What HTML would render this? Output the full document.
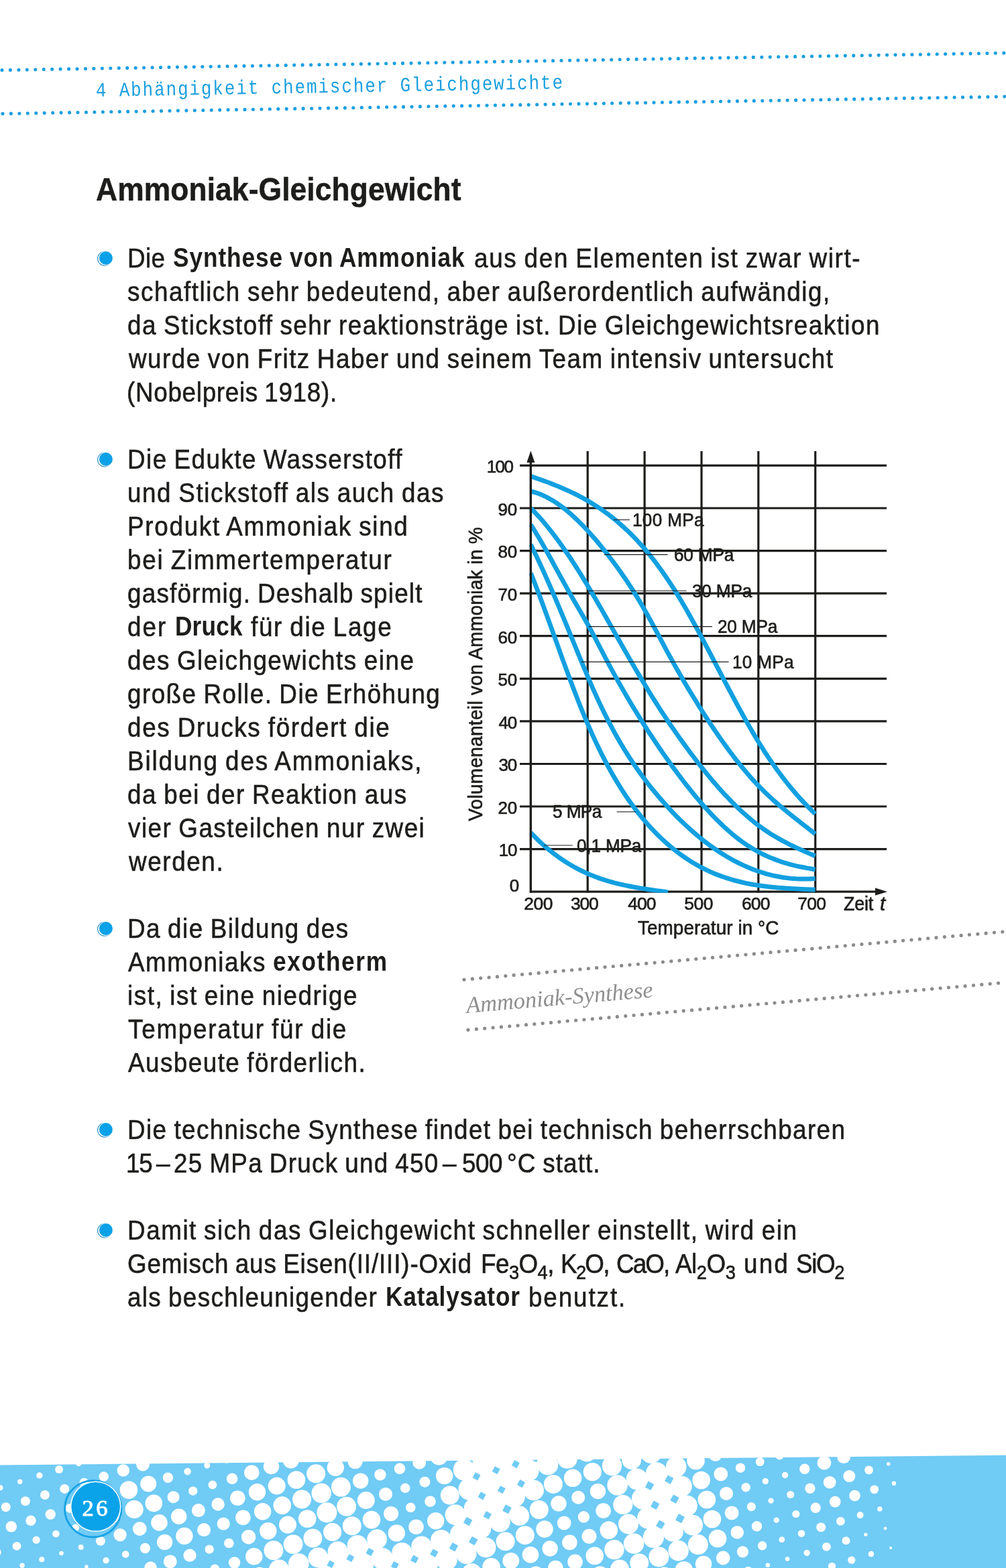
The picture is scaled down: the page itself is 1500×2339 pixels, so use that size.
<!DOCTYPE html>
<html lang="de">
<head>
<meta charset="utf-8">
<title>Ammoniak-Gleichgewicht</title>
<style>
html,body{margin:0;padding:0;background:#fff}
body{width:1500px;height:2339px;position:relative;overflow:hidden;font-family:"Liberation Sans",sans-serif;color:#1d1d1b}
svg{position:absolute;left:0;top:0;display:block}
header,main,footer,h1,ul,li,p,figure,figcaption{margin:0;padding:0;list-style:none;font-weight:normal;font-size:inherit}
.t{position:absolute;white-space:nowrap;line-height:1;transform-origin:0 0;display:block}
.r{font-size:40.0px;font-weight:normal;word-spacing:-1.8px;transform:scaleX(0.92);-webkit-text-stroke:0.6px #1d1d1b}
.b{font-size:40.5px;font-weight:bold;word-spacing:-1.0px;transform:scaleX(0.87)}
.c{font-size:26px}
sub{font-size:.74em;vertical-align:baseline;position:relative;top:.30em;line-height:0}
svg text{font-family:"Liberation Sans",sans-serif;fill:#1d1d1b}
</style>
</head>
<body>
<header>
<svg width="1500" height="200" viewBox="0 0 1500 200" aria-hidden="true">
<g fill="#1a9fe0"><circle cx="3.0" cy="104.6" r="2.55"/><circle cx="15.4" cy="104.4" r="2.55"/><circle cx="27.9" cy="104.2" r="2.55"/><circle cx="40.3" cy="104.0" r="2.55"/><circle cx="52.8" cy="103.7" r="2.55"/><circle cx="65.2" cy="103.5" r="2.55"/><circle cx="77.7" cy="103.3" r="2.55"/><circle cx="90.1" cy="103.1" r="2.55"/><circle cx="102.6" cy="102.9" r="2.55"/><circle cx="115.0" cy="102.7" r="2.55"/><circle cx="127.5" cy="102.5" r="2.55"/><circle cx="139.9" cy="102.3" r="2.55"/><circle cx="152.4" cy="102.0" r="2.55"/><circle cx="164.8" cy="101.8" r="2.55"/><circle cx="177.3" cy="101.6" r="2.55"/><circle cx="189.7" cy="101.4" r="2.55"/><circle cx="202.2" cy="101.2" r="2.55"/><circle cx="214.6" cy="101.0" r="2.55"/><circle cx="227.1" cy="100.8" r="2.55"/><circle cx="239.5" cy="100.6" r="2.55"/><circle cx="252.0" cy="100.3" r="2.55"/><circle cx="264.4" cy="100.1" r="2.55"/><circle cx="276.9" cy="99.9" r="2.55"/><circle cx="289.3" cy="99.7" r="2.55"/><circle cx="301.8" cy="99.5" r="2.55"/><circle cx="314.2" cy="99.3" r="2.55"/><circle cx="326.7" cy="99.1" r="2.55"/><circle cx="339.1" cy="98.9" r="2.55"/><circle cx="351.5" cy="98.6" r="2.55"/><circle cx="364.0" cy="98.4" r="2.55"/><circle cx="376.4" cy="98.2" r="2.55"/><circle cx="388.9" cy="98.0" r="2.55"/><circle cx="401.3" cy="97.8" r="2.55"/><circle cx="413.8" cy="97.6" r="2.55"/><circle cx="426.2" cy="97.4" r="2.55"/><circle cx="438.7" cy="97.1" r="2.55"/><circle cx="451.1" cy="96.9" r="2.55"/><circle cx="463.6" cy="96.7" r="2.55"/><circle cx="476.0" cy="96.5" r="2.55"/><circle cx="488.5" cy="96.3" r="2.55"/><circle cx="500.9" cy="96.1" r="2.55"/><circle cx="513.4" cy="95.9" r="2.55"/><circle cx="525.8" cy="95.7" r="2.55"/><circle cx="538.3" cy="95.4" r="2.55"/><circle cx="550.7" cy="95.2" r="2.55"/><circle cx="563.2" cy="95.0" r="2.55"/><circle cx="575.6" cy="94.8" r="2.55"/><circle cx="588.1" cy="94.6" r="2.55"/><circle cx="600.5" cy="94.4" r="2.55"/><circle cx="613.0" cy="94.2" r="2.55"/><circle cx="625.4" cy="94.0" r="2.55"/><circle cx="637.9" cy="93.7" r="2.55"/><circle cx="650.3" cy="93.5" r="2.55"/><circle cx="662.8" cy="93.3" r="2.55"/><circle cx="675.2" cy="93.1" r="2.55"/><circle cx="687.6" cy="92.9" r="2.55"/><circle cx="700.1" cy="92.7" r="2.55"/><circle cx="712.5" cy="92.5" r="2.55"/><circle cx="725.0" cy="92.3" r="2.55"/><circle cx="737.4" cy="92.0" r="2.55"/><circle cx="749.9" cy="91.8" r="2.55"/><circle cx="762.3" cy="91.6" r="2.55"/><circle cx="774.8" cy="91.4" r="2.55"/><circle cx="787.2" cy="91.2" r="2.55"/><circle cx="799.7" cy="91.0" r="2.55"/><circle cx="812.1" cy="90.8" r="2.55"/><circle cx="824.6" cy="90.6" r="2.55"/><circle cx="837.0" cy="90.3" r="2.55"/><circle cx="849.5" cy="90.1" r="2.55"/><circle cx="861.9" cy="89.9" r="2.55"/><circle cx="874.4" cy="89.7" r="2.55"/><circle cx="886.8" cy="89.5" r="2.55"/><circle cx="899.3" cy="89.3" r="2.55"/><circle cx="911.7" cy="89.1" r="2.55"/><circle cx="924.2" cy="88.8" r="2.55"/><circle cx="936.6" cy="88.6" r="2.55"/><circle cx="949.1" cy="88.4" r="2.55"/><circle cx="961.5" cy="88.2" r="2.55"/><circle cx="974.0" cy="88.0" r="2.55"/><circle cx="986.4" cy="87.8" r="2.55"/><circle cx="998.9" cy="87.6" r="2.55"/><circle cx="1011.3" cy="87.4" r="2.55"/><circle cx="1023.8" cy="87.1" r="2.55"/><circle cx="1036.2" cy="86.9" r="2.55"/><circle cx="1048.6" cy="86.7" r="2.55"/><circle cx="1061.1" cy="86.5" r="2.55"/><circle cx="1073.5" cy="86.3" r="2.55"/><circle cx="1086.0" cy="86.1" r="2.55"/><circle cx="1098.4" cy="85.9" r="2.55"/><circle cx="1110.9" cy="85.7" r="2.55"/><circle cx="1123.3" cy="85.4" r="2.55"/><circle cx="1135.8" cy="85.2" r="2.55"/><circle cx="1148.2" cy="85.0" r="2.55"/><circle cx="1160.7" cy="84.8" r="2.55"/><circle cx="1173.1" cy="84.6" r="2.55"/><circle cx="1185.6" cy="84.4" r="2.55"/><circle cx="1198.0" cy="84.2" r="2.55"/><circle cx="1210.5" cy="84.0" r="2.55"/><circle cx="1222.9" cy="83.7" r="2.55"/><circle cx="1235.4" cy="83.5" r="2.55"/><circle cx="1247.8" cy="83.3" r="2.55"/><circle cx="1260.3" cy="83.1" r="2.55"/><circle cx="1272.7" cy="82.9" r="2.55"/><circle cx="1285.2" cy="82.7" r="2.55"/><circle cx="1297.6" cy="82.5" r="2.55"/><circle cx="1310.1" cy="82.2" r="2.55"/><circle cx="1322.5" cy="82.0" r="2.55"/><circle cx="1335.0" cy="81.8" r="2.55"/><circle cx="1347.4" cy="81.6" r="2.55"/><circle cx="1359.9" cy="81.4" r="2.55"/><circle cx="1372.3" cy="81.2" r="2.55"/><circle cx="1384.7" cy="81.0" r="2.55"/><circle cx="1397.2" cy="80.8" r="2.55"/><circle cx="1409.6" cy="80.5" r="2.55"/><circle cx="1422.1" cy="80.3" r="2.55"/><circle cx="1434.5" cy="80.1" r="2.55"/><circle cx="1447.0" cy="79.9" r="2.55"/><circle cx="1459.4" cy="79.7" r="2.55"/><circle cx="1471.9" cy="79.5" r="2.55"/><circle cx="1484.3" cy="79.3" r="2.55"/><circle cx="1496.8" cy="79.1" r="2.55"/></g>
<g fill="#1a9fe0"><circle cx="4.0" cy="169.6" r="2.55"/><circle cx="16.4" cy="169.4" r="2.55"/><circle cx="28.9" cy="169.2" r="2.55"/><circle cx="41.3" cy="169.0" r="2.55"/><circle cx="53.8" cy="168.7" r="2.55"/><circle cx="66.2" cy="168.5" r="2.55"/><circle cx="78.7" cy="168.3" r="2.55"/><circle cx="91.1" cy="168.1" r="2.55"/><circle cx="103.6" cy="167.9" r="2.55"/><circle cx="116.0" cy="167.7" r="2.55"/><circle cx="128.5" cy="167.5" r="2.55"/><circle cx="140.9" cy="167.3" r="2.55"/><circle cx="153.4" cy="167.0" r="2.55"/><circle cx="165.8" cy="166.8" r="2.55"/><circle cx="178.3" cy="166.6" r="2.55"/><circle cx="190.7" cy="166.4" r="2.55"/><circle cx="203.2" cy="166.2" r="2.55"/><circle cx="215.6" cy="166.0" r="2.55"/><circle cx="228.1" cy="165.8" r="2.55"/><circle cx="240.5" cy="165.6" r="2.55"/><circle cx="253.0" cy="165.3" r="2.55"/><circle cx="265.4" cy="165.1" r="2.55"/><circle cx="277.9" cy="164.9" r="2.55"/><circle cx="290.3" cy="164.7" r="2.55"/><circle cx="302.8" cy="164.5" r="2.55"/><circle cx="315.2" cy="164.3" r="2.55"/><circle cx="327.7" cy="164.1" r="2.55"/><circle cx="340.1" cy="163.8" r="2.55"/><circle cx="352.5" cy="163.6" r="2.55"/><circle cx="365.0" cy="163.4" r="2.55"/><circle cx="377.4" cy="163.2" r="2.55"/><circle cx="389.9" cy="163.0" r="2.55"/><circle cx="402.3" cy="162.8" r="2.55"/><circle cx="414.8" cy="162.6" r="2.55"/><circle cx="427.2" cy="162.4" r="2.55"/><circle cx="439.7" cy="162.1" r="2.55"/><circle cx="452.1" cy="161.9" r="2.55"/><circle cx="464.6" cy="161.7" r="2.55"/><circle cx="477.0" cy="161.5" r="2.55"/><circle cx="489.5" cy="161.3" r="2.55"/><circle cx="501.9" cy="161.1" r="2.55"/><circle cx="514.4" cy="160.9" r="2.55"/><circle cx="526.8" cy="160.7" r="2.55"/><circle cx="539.3" cy="160.4" r="2.55"/><circle cx="551.7" cy="160.2" r="2.55"/><circle cx="564.2" cy="160.0" r="2.55"/><circle cx="576.6" cy="159.8" r="2.55"/><circle cx="589.1" cy="159.6" r="2.55"/><circle cx="601.5" cy="159.4" r="2.55"/><circle cx="614.0" cy="159.2" r="2.55"/><circle cx="626.4" cy="158.9" r="2.55"/><circle cx="638.9" cy="158.7" r="2.55"/><circle cx="651.3" cy="158.5" r="2.55"/><circle cx="663.8" cy="158.3" r="2.55"/><circle cx="676.2" cy="158.1" r="2.55"/><circle cx="688.6" cy="157.9" r="2.55"/><circle cx="701.1" cy="157.7" r="2.55"/><circle cx="713.5" cy="157.5" r="2.55"/><circle cx="726.0" cy="157.2" r="2.55"/><circle cx="738.4" cy="157.0" r="2.55"/><circle cx="750.9" cy="156.8" r="2.55"/><circle cx="763.3" cy="156.6" r="2.55"/><circle cx="775.8" cy="156.4" r="2.55"/><circle cx="788.2" cy="156.2" r="2.55"/><circle cx="800.7" cy="156.0" r="2.55"/><circle cx="813.1" cy="155.8" r="2.55"/><circle cx="825.6" cy="155.5" r="2.55"/><circle cx="838.0" cy="155.3" r="2.55"/><circle cx="850.5" cy="155.1" r="2.55"/><circle cx="862.9" cy="154.9" r="2.55"/><circle cx="875.4" cy="154.7" r="2.55"/><circle cx="887.8" cy="154.5" r="2.55"/><circle cx="900.3" cy="154.3" r="2.55"/><circle cx="912.7" cy="154.0" r="2.55"/><circle cx="925.2" cy="153.8" r="2.55"/><circle cx="937.6" cy="153.6" r="2.55"/><circle cx="950.1" cy="153.4" r="2.55"/><circle cx="962.5" cy="153.2" r="2.55"/><circle cx="975.0" cy="153.0" r="2.55"/><circle cx="987.4" cy="152.8" r="2.55"/><circle cx="999.9" cy="152.6" r="2.55"/><circle cx="1012.3" cy="152.3" r="2.55"/><circle cx="1024.8" cy="152.1" r="2.55"/><circle cx="1037.2" cy="151.9" r="2.55"/><circle cx="1049.6" cy="151.7" r="2.55"/><circle cx="1062.1" cy="151.5" r="2.55"/><circle cx="1074.5" cy="151.3" r="2.55"/><circle cx="1087.0" cy="151.1" r="2.55"/><circle cx="1099.4" cy="150.9" r="2.55"/><circle cx="1111.9" cy="150.6" r="2.55"/><circle cx="1124.3" cy="150.4" r="2.55"/><circle cx="1136.8" cy="150.2" r="2.55"/><circle cx="1149.2" cy="150.0" r="2.55"/><circle cx="1161.7" cy="149.8" r="2.55"/><circle cx="1174.1" cy="149.6" r="2.55"/><circle cx="1186.6" cy="149.4" r="2.55"/><circle cx="1199.0" cy="149.2" r="2.55"/><circle cx="1211.5" cy="148.9" r="2.55"/><circle cx="1223.9" cy="148.7" r="2.55"/><circle cx="1236.4" cy="148.5" r="2.55"/><circle cx="1248.8" cy="148.3" r="2.55"/><circle cx="1261.3" cy="148.1" r="2.55"/><circle cx="1273.7" cy="147.9" r="2.55"/><circle cx="1286.2" cy="147.7" r="2.55"/><circle cx="1298.6" cy="147.4" r="2.55"/><circle cx="1311.1" cy="147.2" r="2.55"/><circle cx="1323.5" cy="147.0" r="2.55"/><circle cx="1336.0" cy="146.8" r="2.55"/><circle cx="1348.4" cy="146.6" r="2.55"/><circle cx="1360.9" cy="146.4" r="2.55"/><circle cx="1373.3" cy="146.2" r="2.55"/><circle cx="1385.7" cy="146.0" r="2.55"/><circle cx="1398.2" cy="145.7" r="2.55"/><circle cx="1410.6" cy="145.5" r="2.55"/><circle cx="1423.1" cy="145.3" r="2.55"/><circle cx="1435.5" cy="145.1" r="2.55"/><circle cx="1448.0" cy="144.9" r="2.55"/><circle cx="1460.4" cy="144.7" r="2.55"/><circle cx="1472.9" cy="144.5" r="2.55"/><circle cx="1485.3" cy="144.3" r="2.55"/><circle cx="1497.8" cy="144.0" r="2.55"/></g>
</svg>
<p class="t" style="left:142.64px;top:121.22px;font-size:30px;letter-spacing:2.293px;transform-origin:0 22.98px;transform:rotate(-0.98deg) scale(0.86,1.0);font-family:'Liberation Mono',monospace;color:#1a9fe0;">4 Abhängigkeit chemischer Gleichgewichte</p>
</header>
<main>
<h1 class="t" style="left:143.10px;top:258.78px;font-size:47.5px;letter-spacing:0.080px;transform-origin:0 40.22px;transform:scale(0.935,1.0);font-weight:bold;-webkit-text-stroke:0.5px #1d1d1b;">Ammoniak-Gleichgewicht</h1>
<ul>
<li>
<svg width="40" height="40" viewBox="0 0 40 40" style="left:137px;top:364.9px" aria-hidden="true"><circle cx="19.0" cy="20.7" r="10.4" fill="none" stroke="#2b8fc4" stroke-width="1.1"/><circle cx="20.9" cy="20" r="10.7" fill="#fff"/><circle cx="20.9" cy="20" r="10" fill="#0aa1e8"/></svg>
<span class="t r" style="left:189.92px;top:364.63px;letter-spacing:0.400px">Die</span> <b class="t b" style="left:258.13px;top:364.21px;letter-spacing:1.073px">Synthese von Ammoniak</b> <span class="t r" style="left:707.36px;top:364.63px;letter-spacing:1.827px">aus den Elementen ist zwar wirt-</span>
<span class="t r" style="left:190.36px;top:414.63px;letter-spacing:1.676px">schaftlich sehr bedeutend, aber außerordentlich aufwändig,</span>
<span class="t r" style="left:190.36px;top:464.63px;letter-spacing:1.614px">da Stickstoff sehr reaktionsträge ist. Die Gleichgewichtsreaktion</span>
<span class="t r" style="left:192.20px;top:514.63px;letter-spacing:1.633px">wurde von Fritz Haber und seinem Team intensiv untersucht</span>
<span class="t r" style="left:189.44px;top:564.63px;letter-spacing:0.772px">(Nobelpreis 1918).</span>
</li>
<li>
<svg width="40" height="40" viewBox="0 0 40 40" style="left:137px;top:664.9px" aria-hidden="true"><circle cx="19.0" cy="20.7" r="10.4" fill="none" stroke="#2b8fc4" stroke-width="1.1"/><circle cx="20.9" cy="20" r="10.7" fill="#fff"/><circle cx="20.9" cy="20" r="10" fill="#0aa1e8"/></svg>
<span class="t r" style="left:189.92px;top:664.63px;letter-spacing:1.570px">Die Edukte Wasserstoff</span>
<span class="t r" style="left:190.24px;top:714.63px;letter-spacing:1.712px">und Stickstoff als auch das</span>
<span class="t r" style="left:189.92px;top:764.63px;letter-spacing:1.879px">Produkt Ammoniak sind</span>
<span class="t r" style="left:190.24px;top:814.63px;letter-spacing:1.915px">bei Zimmertemperatur</span>
<span class="t r" style="left:190.36px;top:864.63px;letter-spacing:1.341px">gasförmig. Deshalb spielt</span>
<span class="t r" style="left:190.36px;top:914.63px;letter-spacing:2.160px">der</span> <b class="t b" style="left:260.56px;top:914.21px;letter-spacing:0.188px">Druck</b> <span class="t r" style="left:373.58px;top:914.63px;letter-spacing:1.842px">für die Lage</span>
<span class="t r" style="left:190.36px;top:964.63px;letter-spacing:1.650px">des Gleichgewichts eine</span>
<span class="t r" style="left:190.36px;top:1014.63px;letter-spacing:1.589px">große Rolle. Die Erhöhung</span>
<span class="t r" style="left:190.36px;top:1064.63px;letter-spacing:1.854px">des Drucks fördert die</span>
<span class="t r" style="left:189.92px;top:1114.63px;letter-spacing:2.008px">Bildung des Ammoniaks,</span>
<span class="t r" style="left:190.36px;top:1164.63px;letter-spacing:1.680px">da bei der Reaktion aus</span>
<span class="t r" style="left:191.28px;top:1214.63px;letter-spacing:1.614px">vier Gasteilchen nur zwei</span>
<span class="t r" style="left:192.20px;top:1264.63px;letter-spacing:1.770px">werden.</span>
</li>
<li>
<svg width="40" height="40" viewBox="0 0 40 40" style="left:137px;top:1364.9px" aria-hidden="true"><circle cx="19.0" cy="20.7" r="10.4" fill="none" stroke="#2b8fc4" stroke-width="1.1"/><circle cx="20.9" cy="20" r="10.7" fill="#fff"/><circle cx="20.9" cy="20" r="10" fill="#0aa1e8"/></svg>
<span class="t r" style="left:189.92px;top:1364.63px;letter-spacing:1.610px">Da die Bildung des</span>
<span class="t r" style="left:191.28px;top:1414.63px;letter-spacing:1.649px">Ammoniaks</span> <b class="t b" style="left:407.13px;top:1414.21px;letter-spacing:1.874px">exotherm</b>
<span class="t r" style="left:190.44px;top:1464.63px;letter-spacing:1.677px">ist, ist eine niedrige</span>
<span class="t r" style="left:191.28px;top:1514.63px;letter-spacing:1.917px">Temperatur für die</span>
<span class="t r" style="left:191.28px;top:1564.63px;letter-spacing:1.600px">Ausbeute förderlich.</span>
</li>
<li>
<svg width="40" height="40" viewBox="0 0 40 40" style="left:137px;top:1664.9px" aria-hidden="true"><circle cx="19.0" cy="20.7" r="10.4" fill="none" stroke="#2b8fc4" stroke-width="1.1"/><circle cx="20.9" cy="20" r="10.7" fill="#fff"/><circle cx="20.9" cy="20" r="10" fill="#0aa1e8"/></svg>
<span class="t r" style="left:189.92px;top:1664.63px;letter-spacing:1.528px">Die technische Synthese findet bei technisch beherrschbaren</span>
<span class="t r" style="left:188.02px;top:1714.63px;letter-spacing:-1.390px">15</span> <span class="t r" style="left:233.12px;top:1714.63px;letter-spacing:0.000px">–</span> <span class="t r" style="left:259.34px;top:1714.63px;letter-spacing:1.405px">25 MPa Druck und 450</span> <span class="t r" style="left:660.32px;top:1714.63px;letter-spacing:0.000px">–</span> <span class="t r" style="left:688.66px;top:1714.63px;letter-spacing:-0.481px">500</span> <span class="t r" style="left:755.64px;top:1714.63px;letter-spacing:1.213px">°C statt.</span>
</li>
<li>
<svg width="40" height="40" viewBox="0 0 40 40" style="left:137px;top:1814.9px" aria-hidden="true"><circle cx="19.0" cy="20.7" r="10.4" fill="none" stroke="#2b8fc4" stroke-width="1.1"/><circle cx="20.9" cy="20" r="10.7" fill="#fff"/><circle cx="20.9" cy="20" r="10" fill="#0aa1e8"/></svg>
<span class="t r" style="left:189.92px;top:1814.63px;letter-spacing:1.699px">Damit sich das Gleichgewicht schneller einstellt, wird ein</span>
<span class="t r" style="left:189.64px;top:1864.63px;letter-spacing:0.951px">Gemisch aus Eisen(II/III)-Oxid</span>
<span class="t r" style="left:716.73px;top:1864.63px;letter-spacing:-0.579px">Fe<sub>3</sub>O<sub>4</sub>,</span> <span class="t r" style="left:835.53px;top:1864.63px;letter-spacing:-1.811px">K<sub>2</sub>O,</span> <span class="t r" style="left:918.51px;top:1864.63px;letter-spacing:-2.048px">CaO,</span> <span class="t r" style="left:1007.10px;top:1864.63px;letter-spacing:-0.470px">Al<sub>2</sub>O<sub>3</sub></span> <span class="t r" style="left:1108.65px;top:1864.63px;letter-spacing:2.399px">und</span> <span class="t r" style="left:1187.02px;top:1864.63px;letter-spacing:-1.479px">SiO<sub>2</sub></span>
<span class="t r" style="left:190.36px;top:1914.63px;letter-spacing:1.471px">als beschleunigender</span> <b class="t b" style="left:574.66px;top:1914.21px;letter-spacing:0.921px">Katalysator</b> <span class="t r" style="left:787.64px;top:1914.63px;letter-spacing:2.067px">benutzt.</span>
</li>
</ul>
<figure>
<svg width="1500" height="1600" viewBox="0 0 1500 1600" aria-hidden="true">
<g stroke="#1d1d1b" stroke-width="3.2" fill="none">
<path d="M775,694.4H1322"/>
<path d="M775,758.0H1322"/>
<path d="M775,821.6H1322"/>
<path d="M775,885.1H1322"/>
<path d="M775,948.7H1322"/>
<path d="M775,1012.3H1322"/>
<path d="M775,1075.9H1322"/>
<path d="M775,1139.5H1322"/>
<path d="M775,1203.0H1322"/>
<path d="M775,1266.6H1322"/>
<path d="M789.9,1330.2H1310"/>
<path d="M791.4,686V1331.7"/>
<path d="M876.2,673V1331.7"/>
<path d="M961.1,673V1331.7"/>
<path d="M1046.0,673V1331.7"/>
<path d="M1130.8,673V1331.7"/>
<path d="M1215.7,673V1331.7"/>
</g>
<path d="M791.4,672.5 L797.4,690 L785.4,690 Z" fill="#1d1d1b"/>
<path d="M1323,1330.2 L1305,1324.6 L1305,1335.8 Z" fill="#1d1d1b"/>
<clipPath id="plotclip"><rect x="789.2" y="660" width="560" height="671.8"/></clipPath>
<g stroke="#12a0e0" stroke-width="6.8" fill="none" stroke-linejoin="round" clip-path="url(#plotclip)">
<path d="M791.4,710.4 L795.4,711.8 L799.4,713.2 L803.4,714.6 L807.4,716.0 L811.4,717.5 L815.4,718.9 L819.4,720.4 L823.4,722.0 L827.4,723.6 L831.4,725.2 L835.4,726.9 L839.4,728.6 L843.4,730.3 L847.4,732.1 L851.4,734.0 L855.4,735.9 L859.4,737.9 L863.4,739.9 L867.4,742.1 L871.4,744.2 L875.4,746.5 L879.4,748.8 L883.4,751.3 L887.4,753.8 L891.4,756.4 L895.4,759.0 L899.4,761.8 L903.4,764.7 L907.4,767.6 L911.4,770.7 L915.4,773.9 L919.4,777.2 L923.4,780.6 L927.4,784.1 L931.4,787.7 L935.4,791.4 L939.4,795.3 L943.4,799.3 L947.4,803.4 L951.4,807.7 L955.4,812.1 L959.4,816.6 L963.4,821.3 L967.4,826.2 L971.4,831.1 L975.4,836.2 L979.4,841.5 L983.4,846.9 L987.4,852.5 L991.4,858.2 L995.4,864.1 L999.4,870.1 L1003.4,876.3 L1007.4,882.6 L1011.4,889.1 L1015.4,895.8 L1019.4,902.5 L1023.4,909.4 L1027.4,916.5 L1031.4,923.6 L1035.4,930.9 L1039.4,938.2 L1043.4,945.6 L1047.4,953.1 L1051.4,960.6 L1055.4,968.2 L1059.4,975.8 L1063.4,983.4 L1067.4,991.1 L1071.4,998.7 L1075.4,1006.4 L1079.4,1014.0 L1083.4,1021.6 L1087.4,1029.2 L1091.4,1036.7 L1095.4,1044.2 L1099.4,1051.6 L1103.4,1058.9 L1107.4,1066.2 L1111.4,1073.4 L1115.4,1080.4 L1119.4,1087.4 L1123.4,1094.2 L1127.4,1100.9 L1131.4,1107.5 L1135.4,1113.9 L1139.4,1120.2 L1143.4,1126.3 L1147.4,1132.3 L1151.4,1138.1 L1155.4,1143.8 L1159.4,1149.4 L1163.4,1154.8 L1167.4,1160.1 L1171.4,1165.3 L1175.4,1170.3 L1179.4,1175.2 L1183.4,1180.0 L1187.4,1184.7 L1191.4,1189.2 L1195.4,1193.6 L1199.4,1197.9 L1203.4,1202.1 L1207.4,1206.1 L1211.4,1210.1 L1215.6,1214.1"/>
<path d="M791.4,732.9 L795.4,733.9 L799.4,735.0 L803.4,736.4 L807.4,738.0 L811.4,739.8 L815.4,741.7 L819.4,743.9 L823.4,746.2 L827.4,748.7 L831.4,751.4 L835.4,754.2 L839.4,757.2 L843.4,760.3 L847.4,763.7 L851.4,767.1 L855.4,770.7 L859.4,774.5 L863.4,778.4 L867.4,782.4 L871.4,786.5 L875.4,790.8 L879.4,795.2 L883.4,799.7 L887.4,804.3 L891.4,809.0 L895.4,813.9 L899.4,818.8 L903.4,823.8 L907.4,829.0 L911.4,834.2 L915.4,839.5 L919.4,844.9 L923.4,850.5 L927.4,856.2 L931.4,862.0 L935.4,867.9 L939.4,874.0 L943.4,880.2 L947.4,886.6 L951.4,893.1 L955.4,899.8 L959.4,906.7 L963.4,913.7 L967.4,920.9 L971.4,928.2 L975.4,935.7 L979.4,943.1 L983.4,950.7 L987.4,958.2 L991.4,965.7 L995.4,973.1 L999.4,980.4 L1003.4,987.7 L1007.4,994.8 L1011.4,1001.8 L1015.4,1008.8 L1019.4,1015.7 L1023.4,1022.5 L1027.4,1029.2 L1031.4,1035.8 L1035.4,1042.3 L1039.4,1048.8 L1043.4,1055.2 L1047.4,1061.5 L1051.4,1067.8 L1055.4,1073.9 L1059.4,1080.0 L1063.4,1086.0 L1067.4,1091.9 L1071.4,1097.7 L1075.4,1103.4 L1079.4,1109.0 L1083.4,1114.6 L1087.4,1120.0 L1091.4,1125.3 L1095.4,1130.6 L1099.4,1135.7 L1103.4,1140.7 L1107.4,1145.6 L1111.4,1150.4 L1115.4,1155.1 L1119.4,1159.7 L1123.4,1164.1 L1127.4,1168.4 L1131.4,1172.6 L1135.4,1176.7 L1139.4,1180.7 L1143.4,1184.6 L1147.4,1188.3 L1151.4,1192.0 L1155.4,1195.6 L1159.4,1199.1 L1163.4,1202.5 L1167.4,1205.9 L1171.4,1209.2 L1175.4,1212.5 L1179.4,1215.7 L1183.4,1218.9 L1187.4,1222.0 L1191.4,1225.1 L1195.4,1228.3 L1199.4,1231.4 L1203.4,1234.4 L1207.4,1237.6 L1211.4,1240.7 L1215.6,1244.0"/>
<path d="M791.4,758.1 L795.4,762.1 L799.4,766.3 L803.4,770.6 L807.4,775.1 L811.4,779.8 L815.4,784.6 L819.4,789.6 L823.4,794.7 L827.4,799.9 L831.4,805.3 L835.4,810.8 L839.4,816.4 L843.4,822.2 L847.4,828.0 L851.4,834.0 L855.4,840.1 L859.4,846.4 L863.4,852.7 L867.4,859.1 L871.4,865.6 L875.4,872.2 L879.4,878.9 L883.4,885.7 L887.4,892.5 L891.4,899.5 L895.4,906.4 L899.4,913.4 L903.4,920.5 L907.4,927.5 L911.4,934.6 L915.4,941.7 L919.4,948.8 L923.4,955.8 L927.4,962.9 L931.4,969.9 L935.4,976.9 L939.4,983.9 L943.4,990.8 L947.4,997.7 L951.4,1004.5 L955.4,1011.3 L959.4,1018.0 L963.4,1024.6 L967.4,1031.2 L971.4,1037.7 L975.4,1044.1 L979.4,1050.4 L983.4,1056.7 L987.4,1062.8 L991.4,1068.9 L995.4,1074.9 L999.4,1080.8 L1003.4,1086.6 L1007.4,1092.4 L1011.4,1098.1 L1015.4,1103.7 L1019.4,1109.3 L1023.4,1114.8 L1027.4,1120.2 L1031.4,1125.6 L1035.4,1130.8 L1039.4,1136.0 L1043.4,1141.2 L1047.4,1146.2 L1051.4,1151.2 L1055.4,1156.1 L1059.4,1160.9 L1063.4,1165.7 L1067.4,1170.3 L1071.4,1174.9 L1075.4,1179.4 L1079.4,1183.8 L1083.4,1188.0 L1087.4,1192.2 L1091.4,1196.3 L1095.4,1200.4 L1099.4,1204.3 L1103.4,1208.1 L1107.4,1211.8 L1111.4,1215.3 L1115.4,1218.8 L1119.4,1222.2 L1123.4,1225.5 L1127.4,1228.6 L1131.4,1231.7 L1135.4,1234.6 L1139.4,1237.4 L1143.4,1240.1 L1147.4,1242.8 L1151.4,1245.3 L1155.4,1247.7 L1159.4,1250.0 L1163.4,1252.3 L1167.4,1254.5 L1171.4,1256.6 L1175.4,1258.7 L1179.4,1260.7 L1183.4,1262.6 L1187.4,1264.5 L1191.4,1266.4 L1195.4,1268.2 L1199.4,1270.0 L1203.4,1271.7 L1207.4,1273.5 L1211.4,1275.2 L1215.6,1277.0"/>
<path d="M791.4,782.5 L795.4,788.8 L799.4,795.4 L803.4,802.1 L807.4,808.9 L811.4,815.9 L815.4,823.0 L819.4,830.2 L823.4,837.5 L827.4,844.8 L831.4,852.1 L835.4,859.4 L839.4,866.7 L843.4,873.9 L847.4,881.1 L851.4,888.2 L855.4,895.1 L859.4,902.0 L863.4,908.9 L867.4,915.8 L871.4,922.8 L875.4,929.8 L879.4,937.0 L883.4,944.4 L887.4,951.9 L891.4,959.6 L895.4,967.3 L899.4,975.0 L903.4,982.7 L907.4,990.2 L911.4,997.6 L915.4,1005.0 L919.4,1012.2 L923.4,1019.4 L927.4,1026.4 L931.4,1033.4 L935.4,1040.2 L939.4,1047.0 L943.4,1053.7 L947.4,1060.3 L951.4,1066.8 L955.4,1073.3 L959.4,1079.6 L963.4,1085.9 L967.4,1092.1 L971.4,1098.2 L975.4,1104.2 L979.4,1110.2 L983.4,1116.1 L987.4,1121.9 L991.4,1127.6 L995.4,1133.2 L999.4,1138.8 L1003.4,1144.4 L1007.4,1149.8 L1011.4,1155.2 L1015.4,1160.5 L1019.4,1165.7 L1023.4,1170.8 L1027.4,1175.9 L1031.4,1180.9 L1035.4,1185.8 L1039.4,1190.6 L1043.4,1195.3 L1047.4,1199.9 L1051.4,1204.4 L1055.4,1208.8 L1059.4,1213.1 L1063.4,1217.3 L1067.4,1221.5 L1071.4,1225.4 L1075.4,1229.3 L1079.4,1233.1 L1083.4,1236.8 L1087.4,1240.3 L1091.4,1243.8 L1095.4,1247.1 L1099.4,1250.2 L1103.4,1253.3 L1107.4,1256.2 L1111.4,1259.0 L1115.4,1261.7 L1119.4,1264.2 L1123.4,1266.6 L1127.4,1268.9 L1131.4,1271.1 L1135.4,1273.2 L1139.4,1275.1 L1143.4,1277.0 L1147.4,1278.8 L1151.4,1280.4 L1155.4,1282.0 L1159.4,1283.5 L1163.4,1284.9 L1167.4,1286.2 L1171.4,1287.4 L1175.4,1288.6 L1179.4,1289.7 L1183.4,1290.7 L1187.4,1291.7 L1191.4,1292.6 L1195.4,1293.4 L1199.4,1294.2 L1203.4,1295.0 L1207.4,1295.7 L1211.4,1296.4 L1215.6,1297.1"/>
<path d="M791.4,812.3 L795.4,820.4 L799.4,828.7 L803.4,837.2 L807.4,845.9 L811.4,854.7 L815.4,863.6 L819.4,872.7 L823.4,881.9 L827.4,891.2 L831.4,900.6 L835.4,910.1 L839.4,919.7 L843.4,929.4 L847.4,939.1 L851.4,948.9 L855.4,958.7 L859.4,968.4 L863.4,978.2 L867.4,987.9 L871.4,997.5 L875.4,1007.0 L879.4,1016.4 L883.4,1025.6 L887.4,1034.6 L891.4,1043.4 L895.4,1051.9 L899.4,1060.2 L903.4,1068.3 L907.4,1076.1 L911.4,1083.7 L915.4,1091.1 L919.4,1098.3 L923.4,1105.3 L927.4,1112.1 L931.4,1118.7 L935.4,1125.1 L939.4,1131.3 L943.4,1137.4 L947.4,1143.3 L951.4,1149.0 L955.4,1154.6 L959.4,1160.0 L963.4,1165.3 L967.4,1170.5 L971.4,1175.6 L975.4,1180.5 L979.4,1185.3 L983.4,1190.0 L987.4,1194.6 L991.4,1199.1 L995.4,1203.6 L999.4,1207.9 L1003.4,1212.1 L1007.4,1216.3 L1011.4,1220.3 L1015.4,1224.3 L1019.4,1228.1 L1023.4,1231.9 L1027.4,1235.6 L1031.4,1239.2 L1035.4,1242.6 L1039.4,1246.1 L1043.4,1249.4 L1047.4,1252.6 L1051.4,1255.7 L1055.4,1258.8 L1059.4,1261.7 L1063.4,1264.6 L1067.4,1267.4 L1071.4,1270.1 L1075.4,1272.7 L1079.4,1275.2 L1083.4,1277.6 L1087.4,1279.9 L1091.4,1282.2 L1095.4,1284.4 L1099.4,1286.4 L1103.4,1288.4 L1107.4,1290.3 L1111.4,1292.2 L1115.4,1293.9 L1119.4,1295.5 L1123.4,1297.1 L1127.4,1298.6 L1131.4,1300.0 L1135.4,1301.3 L1139.4,1302.5 L1143.4,1303.7 L1147.4,1304.7 L1151.4,1305.7 L1155.4,1306.6 L1159.4,1307.4 L1163.4,1308.2 L1167.4,1308.8 L1171.4,1309.4 L1175.4,1309.9 L1179.4,1310.3 L1183.4,1310.6 L1187.4,1310.9 L1191.4,1311.1 L1195.4,1311.2 L1199.4,1311.2 L1203.4,1311.1 L1207.4,1311.0 L1211.4,1310.8 L1215.6,1310.5"/>
<path d="M791.4,854.7 L795.4,864.8 L799.4,875.2 L803.4,885.7 L807.4,896.5 L811.4,907.3 L815.4,918.3 L819.4,929.3 L823.4,940.4 L827.4,951.6 L831.4,962.7 L835.4,973.8 L839.4,984.8 L843.4,995.8 L847.4,1006.7 L851.4,1017.4 L855.4,1028.0 L859.4,1038.4 L863.4,1048.7 L867.4,1058.7 L871.4,1068.5 L875.4,1078.0 L879.4,1087.2 L883.4,1096.2 L887.4,1104.9 L891.4,1113.3 L895.4,1121.5 L899.4,1129.4 L903.4,1137.1 L907.4,1144.6 L911.4,1151.8 L915.4,1158.8 L919.4,1165.5 L923.4,1172.1 L927.4,1178.4 L931.4,1184.6 L935.4,1190.5 L939.4,1196.3 L943.4,1201.8 L947.4,1207.2 L951.4,1212.4 L955.4,1217.4 L959.4,1222.2 L963.4,1226.9 L967.4,1231.4 L971.4,1235.8 L975.4,1240.0 L979.4,1244.1 L983.4,1248.1 L987.4,1251.9 L991.4,1255.6 L995.4,1259.1 L999.4,1262.5 L1003.4,1265.9 L1007.4,1269.0 L1011.4,1272.1 L1015.4,1275.1 L1019.4,1277.9 L1023.4,1280.6 L1027.4,1283.3 L1031.4,1285.8 L1035.4,1288.2 L1039.4,1290.5 L1043.4,1292.7 L1047.4,1294.8 L1051.4,1296.8 L1055.4,1298.7 L1059.4,1300.6 L1063.4,1302.3 L1067.4,1304.0 L1071.4,1305.5 L1075.4,1307.0 L1079.4,1308.4 L1083.4,1309.8 L1087.4,1311.1 L1091.4,1312.3 L1095.4,1313.4 L1099.4,1314.4 L1103.4,1315.4 L1107.4,1316.4 L1111.4,1317.3 L1115.4,1318.1 L1119.4,1318.8 L1123.4,1319.6 L1127.4,1320.2 L1131.4,1320.8 L1135.4,1321.4 L1139.4,1321.9 L1143.4,1322.4 L1147.4,1322.9 L1151.4,1323.3 L1155.4,1323.7 L1159.4,1324.1 L1163.4,1324.4 L1167.4,1324.7 L1171.4,1325.0 L1175.4,1325.2 L1179.4,1325.5 L1183.4,1325.7 L1187.4,1325.9 L1191.4,1326.1 L1195.4,1326.3 L1199.4,1326.5 L1203.4,1326.6 L1207.4,1326.8 L1211.4,1327.0 L1215.6,1327.2"/>
<path d="M791.4,1242.1 L795.4,1246.2 L799.4,1250.3 L803.4,1254.2 L807.4,1257.9 L811.4,1261.5 L815.4,1265.0 L819.4,1268.3 L823.4,1271.5 L827.4,1274.6 L831.4,1277.5 L835.4,1280.4 L839.4,1283.1 L843.4,1285.7 L847.4,1288.2 L851.4,1290.6 L855.4,1292.9 L859.4,1295.1 L863.4,1297.1 L867.4,1299.1 L871.4,1301.0 L875.4,1302.8 L879.4,1304.6 L883.4,1306.2 L887.4,1307.8 L891.4,1309.2 L895.4,1310.7 L899.4,1312.0 L903.4,1313.3 L907.4,1314.5 L911.4,1315.6 L915.4,1316.7 L919.4,1317.7 L923.4,1318.7 L927.4,1319.6 L931.4,1320.5 L935.4,1321.3 L939.4,1322.1 L943.4,1322.9 L947.4,1323.6 L951.4,1324.3 L955.4,1325.0 L959.4,1325.6 L963.4,1326.2 L967.4,1326.8 L971.4,1327.4 L975.4,1328.0 L979.4,1328.6 L983.4,1329.1 L987.4,1329.7 L991.4,1330.2 L995.4,1330.8 L996.0,1330.9"/>
</g>
<path d="M791.4,686V1331.8" stroke="#1d1d1b" stroke-width="3.2" fill="none"/>
<g stroke="#1d1d1b" stroke-width="1.1" fill="none">
<path d="M915,775.4H939"/>
<path d="M901,827.4H995.6"/>
<path d="M877,881.2H1023.6"/>
<path d="M878,934.6H1062"/>
<path d="M867,987.4H1086.6"/>
<path d="M919.6,1211H948"/>
<path d="M811,1261H853.6"/>
</g>
</svg>
<span class="t c" style="left:725.83px;top:683.19px;font-size:26px;letter-spacing:-1.685px;-webkit-text-stroke:0.65px #1d1d1b;">100</span>
<span class="t c" style="left:742.53px;top:746.77px;font-size:26px;letter-spacing:-0.110px;-webkit-text-stroke:0.65px #1d1d1b;">90</span>
<span class="t c" style="left:742.53px;top:810.35px;font-size:26px;letter-spacing:-0.110px;-webkit-text-stroke:0.65px #1d1d1b;">80</span>
<span class="t c" style="left:742.53px;top:873.93px;font-size:26px;letter-spacing:-0.110px;-webkit-text-stroke:0.65px #1d1d1b;">70</span>
<span class="t c" style="left:742.53px;top:937.51px;font-size:26px;letter-spacing:-0.110px;-webkit-text-stroke:0.65px #1d1d1b;">60</span>
<span class="t c" style="left:742.53px;top:1001.09px;font-size:26px;letter-spacing:-0.110px;-webkit-text-stroke:0.65px #1d1d1b;">50</span>
<span class="t c" style="left:743.53px;top:1064.67px;font-size:26px;letter-spacing:-1.110px;-webkit-text-stroke:0.65px #1d1d1b;">40</span>
<span class="t c" style="left:743.53px;top:1128.25px;font-size:26px;letter-spacing:-1.110px;-webkit-text-stroke:0.65px #1d1d1b;">30</span>
<span class="t c" style="left:742.53px;top:1191.83px;font-size:26px;letter-spacing:-0.110px;-webkit-text-stroke:0.65px #1d1d1b;">20</span>
<span class="t c" style="left:743.83px;top:1255.41px;font-size:26px;letter-spacing:-1.410px;-webkit-text-stroke:0.65px #1d1d1b;">10</span>
<span class="t c" style="left:759.83px;top:1308.49px;font-size:26px;letter-spacing:0.000px;-webkit-text-stroke:0.65px #1d1d1b;">0</span>
<span class="t c" style="left:781.33px;top:1335.45px;font-size:26.4px;letter-spacing:-0.502px;-webkit-text-stroke:0.65px #1d1d1b;">200</span>
<span class="t c" style="left:850.93px;top:1335.45px;font-size:26.4px;letter-spacing:-1.102px;-webkit-text-stroke:0.65px #1d1d1b;">300</span>
<span class="t c" style="left:936.33px;top:1335.45px;font-size:26.4px;letter-spacing:-1.002px;-webkit-text-stroke:0.65px #1d1d1b;">400</span>
<span class="t c" style="left:1020.33px;top:1335.45px;font-size:26.4px;letter-spacing:-0.502px;-webkit-text-stroke:0.65px #1d1d1b;">500</span>
<span class="t c" style="left:1105.92px;top:1335.45px;font-size:26.4px;letter-spacing:-0.802px;-webkit-text-stroke:0.65px #1d1d1b;">600</span>
<span class="t c" style="left:1189.33px;top:1335.45px;font-size:26.4px;letter-spacing:-0.702px;-webkit-text-stroke:0.65px #1d1d1b;">700</span>
<span class="t c" style="left:1257.91px;top:1333.58px;font-size:28.6px;letter-spacing:-0.166px;transform-origin:0 24.22px;transform:scale(0.94,1.0);-webkit-text-stroke:0.65px #1d1d1b;">Zeit</span>
<i class="t c" style="left:1311.92px;top:1332.82px;font-size:29.5px;letter-spacing:0.000px;font-style:italic;-webkit-text-stroke:0.65px #1d1d1b;">t</i>
<span class="t c" style="left:951.31px;top:1368.99px;font-size:29.3px;letter-spacing:0.085px;transform-origin:0 24.81px;transform:scale(0.95,1.0);-webkit-text-stroke:0.65px #1d1d1b;">Temperatur in °C</span>
<span class="t c" style="left:943.41px;top:761.72px;font-size:27.5px;letter-spacing:0.359px;transform-origin:0 23.28px;transform:scale(0.95,1.0);-webkit-text-stroke:0.65px #1d1d1b;">100 MPa</span>
<span class="t c" style="left:1004.66px;top:814.12px;font-size:27.5px;letter-spacing:-0.184px;transform-origin:0 23.28px;transform:scale(0.95,1.0);-webkit-text-stroke:0.65px #1d1d1b;">60 MPa</span>
<span class="t c" style="left:1031.86px;top:867.92px;font-size:27.5px;letter-spacing:-0.184px;transform-origin:0 23.28px;transform:scale(0.95,1.0);-webkit-text-stroke:0.65px #1d1d1b;">30 MPa</span>
<span class="t c" style="left:1069.86px;top:921.32px;font-size:27.5px;letter-spacing:-0.184px;transform-origin:0 23.28px;transform:scale(0.95,1.0);-webkit-text-stroke:0.65px #1d1d1b;">20 MPa</span>
<span class="t c" style="left:1092.01px;top:974.32px;font-size:27.5px;letter-spacing:0.290px;transform-origin:0 23.28px;transform:scale(0.95,1.0);-webkit-text-stroke:0.65px #1d1d1b;">10 MPa</span>
<span class="t c" style="left:823.76px;top:1197.32px;font-size:27.5px;letter-spacing:-0.590px;transform-origin:0 23.28px;transform:scale(0.95,1.0);-webkit-text-stroke:0.65px #1d1d1b;">5 MPa</span>
<span class="t c" style="left:859.76px;top:1247.72px;font-size:27.5px;letter-spacing:-0.181px;transform-origin:0 23.28px;transform:scale(0.95,1.0);-webkit-text-stroke:0.65px #1d1d1b;">0,1 MPa</span>
<span class="t c" style="left:718.61px;top:1200.49px;font-size:29.3px;letter-spacing:0.398px;transform-origin:0 24.81px;transform:rotate(-90deg) scale(0.95,1.0);-webkit-text-stroke:0.65px #1d1d1b;">Volumenanteil von Ammoniak in %</span>
<svg width="1500" height="1600" viewBox="0 0 1500 1600" aria-hidden="true">
<g fill="#8c8c8c"><circle cx="692.0" cy="1461.3" r="2.6"/><circle cx="704.4" cy="1460.2" r="2.6"/><circle cx="716.7" cy="1459.1" r="2.6"/><circle cx="729.1" cy="1458.0" r="2.6"/><circle cx="741.4" cy="1456.9" r="2.6"/><circle cx="753.8" cy="1455.8" r="2.6"/><circle cx="766.1" cy="1454.7" r="2.6"/><circle cx="778.5" cy="1453.6" r="2.6"/><circle cx="790.8" cy="1452.5" r="2.6"/><circle cx="803.2" cy="1451.4" r="2.6"/><circle cx="815.5" cy="1450.3" r="2.6"/><circle cx="827.9" cy="1449.2" r="2.6"/><circle cx="840.2" cy="1448.1" r="2.6"/><circle cx="852.6" cy="1447.0" r="2.6"/><circle cx="864.9" cy="1445.9" r="2.6"/><circle cx="877.3" cy="1444.8" r="2.6"/><circle cx="889.6" cy="1443.7" r="2.6"/><circle cx="902.0" cy="1442.6" r="2.6"/><circle cx="914.3" cy="1441.5" r="2.6"/><circle cx="926.7" cy="1440.4" r="2.6"/><circle cx="939.0" cy="1439.3" r="2.6"/><circle cx="951.4" cy="1438.3" r="2.6"/><circle cx="963.7" cy="1437.2" r="2.6"/><circle cx="976.1" cy="1436.1" r="2.6"/><circle cx="988.4" cy="1435.0" r="2.6"/><circle cx="1000.8" cy="1433.9" r="2.6"/><circle cx="1013.1" cy="1432.8" r="2.6"/><circle cx="1025.5" cy="1431.7" r="2.6"/><circle cx="1037.8" cy="1430.6" r="2.6"/><circle cx="1050.2" cy="1429.5" r="2.6"/><circle cx="1062.5" cy="1428.4" r="2.6"/><circle cx="1074.9" cy="1427.3" r="2.6"/><circle cx="1087.2" cy="1426.2" r="2.6"/><circle cx="1099.6" cy="1425.1" r="2.6"/><circle cx="1111.9" cy="1424.0" r="2.6"/><circle cx="1124.3" cy="1422.9" r="2.6"/><circle cx="1136.6" cy="1421.8" r="2.6"/><circle cx="1149.0" cy="1420.7" r="2.6"/><circle cx="1161.4" cy="1419.6" r="2.6"/><circle cx="1173.7" cy="1418.5" r="2.6"/><circle cx="1186.1" cy="1417.4" r="2.6"/><circle cx="1198.4" cy="1416.3" r="2.6"/><circle cx="1210.8" cy="1415.2" r="2.6"/><circle cx="1223.1" cy="1414.1" r="2.6"/><circle cx="1235.5" cy="1413.0" r="2.6"/><circle cx="1247.8" cy="1411.9" r="2.6"/><circle cx="1260.2" cy="1410.8" r="2.6"/><circle cx="1272.5" cy="1409.7" r="2.6"/><circle cx="1284.9" cy="1408.6" r="2.6"/><circle cx="1297.2" cy="1407.5" r="2.6"/><circle cx="1309.6" cy="1406.4" r="2.6"/><circle cx="1321.9" cy="1405.3" r="2.6"/><circle cx="1334.3" cy="1404.2" r="2.6"/><circle cx="1346.6" cy="1403.1" r="2.6"/><circle cx="1359.0" cy="1402.0" r="2.6"/><circle cx="1371.3" cy="1400.9" r="2.6"/><circle cx="1383.7" cy="1399.8" r="2.6"/><circle cx="1396.0" cy="1398.7" r="2.6"/><circle cx="1408.4" cy="1397.6" r="2.6"/><circle cx="1420.7" cy="1396.5" r="2.6"/><circle cx="1433.1" cy="1395.4" r="2.6"/><circle cx="1445.4" cy="1394.3" r="2.6"/><circle cx="1457.8" cy="1393.3" r="2.6"/><circle cx="1470.1" cy="1392.2" r="2.6"/><circle cx="1482.5" cy="1391.1" r="2.6"/><circle cx="1494.8" cy="1390.0" r="2.6"/></g>
<g fill="#8c8c8c"><circle cx="698.0" cy="1536.3" r="2.6"/><circle cx="710.4" cy="1535.2" r="2.6"/><circle cx="722.7" cy="1534.1" r="2.6"/><circle cx="735.1" cy="1533.0" r="2.6"/><circle cx="747.4" cy="1531.9" r="2.6"/><circle cx="759.8" cy="1530.8" r="2.6"/><circle cx="772.1" cy="1529.8" r="2.6"/><circle cx="784.5" cy="1528.7" r="2.6"/><circle cx="796.8" cy="1527.6" r="2.6"/><circle cx="809.2" cy="1526.5" r="2.6"/><circle cx="821.5" cy="1525.4" r="2.6"/><circle cx="833.9" cy="1524.3" r="2.6"/><circle cx="846.2" cy="1523.2" r="2.6"/><circle cx="858.6" cy="1522.1" r="2.6"/><circle cx="870.9" cy="1521.0" r="2.6"/><circle cx="883.3" cy="1519.9" r="2.6"/><circle cx="895.6" cy="1518.9" r="2.6"/><circle cx="908.0" cy="1517.8" r="2.6"/><circle cx="920.3" cy="1516.7" r="2.6"/><circle cx="932.7" cy="1515.6" r="2.6"/><circle cx="945.0" cy="1514.5" r="2.6"/><circle cx="957.4" cy="1513.4" r="2.6"/><circle cx="969.7" cy="1512.3" r="2.6"/><circle cx="982.1" cy="1511.2" r="2.6"/><circle cx="994.4" cy="1510.1" r="2.6"/><circle cx="1006.8" cy="1509.0" r="2.6"/><circle cx="1019.2" cy="1507.9" r="2.6"/><circle cx="1031.5" cy="1506.9" r="2.6"/><circle cx="1043.9" cy="1505.8" r="2.6"/><circle cx="1056.2" cy="1504.7" r="2.6"/><circle cx="1068.6" cy="1503.6" r="2.6"/><circle cx="1080.9" cy="1502.5" r="2.6"/><circle cx="1093.3" cy="1501.4" r="2.6"/><circle cx="1105.6" cy="1500.3" r="2.6"/><circle cx="1118.0" cy="1499.2" r="2.6"/><circle cx="1130.3" cy="1498.1" r="2.6"/><circle cx="1142.7" cy="1497.0" r="2.6"/><circle cx="1155.0" cy="1496.0" r="2.6"/><circle cx="1167.4" cy="1494.9" r="2.6"/><circle cx="1179.7" cy="1493.8" r="2.6"/><circle cx="1192.1" cy="1492.7" r="2.6"/><circle cx="1204.4" cy="1491.6" r="2.6"/><circle cx="1216.8" cy="1490.5" r="2.6"/><circle cx="1229.1" cy="1489.4" r="2.6"/><circle cx="1241.5" cy="1488.3" r="2.6"/><circle cx="1253.8" cy="1487.2" r="2.6"/><circle cx="1266.2" cy="1486.1" r="2.6"/><circle cx="1278.5" cy="1485.1" r="2.6"/><circle cx="1290.9" cy="1484.0" r="2.6"/><circle cx="1303.2" cy="1482.9" r="2.6"/><circle cx="1315.6" cy="1481.8" r="2.6"/><circle cx="1328.0" cy="1480.7" r="2.6"/><circle cx="1340.3" cy="1479.6" r="2.6"/><circle cx="1352.7" cy="1478.5" r="2.6"/><circle cx="1365.0" cy="1477.4" r="2.6"/><circle cx="1377.4" cy="1476.3" r="2.6"/><circle cx="1389.7" cy="1475.2" r="2.6"/><circle cx="1402.1" cy="1474.1" r="2.6"/><circle cx="1414.4" cy="1473.1" r="2.6"/><circle cx="1426.8" cy="1472.0" r="2.6"/><circle cx="1439.1" cy="1470.9" r="2.6"/><circle cx="1451.5" cy="1469.8" r="2.6"/><circle cx="1463.8" cy="1468.7" r="2.6"/><circle cx="1476.2" cy="1467.6" r="2.6"/><circle cx="1488.5" cy="1466.5" r="2.6"/></g>
</svg>
<figcaption class="t" style="left:695.50px;top:1481.61px;font-size:34.5px;letter-spacing:-0.027px;transform-origin:0 28.89px;transform:rotate(-4.85deg);font-style:italic;font-family:'Liberation Serif',serif;color:#8f8f8f;">Ammoniak-Synthese</figcaption>
</figure>
</main>
<footer>
<svg width="1500" height="2339" viewBox="0 0 1500 2339" aria-hidden="true">
<clipPath id="bandclip"><path d="M0,2185.5 L1500,2170.8 L1500,2339 L0,2339 Z"/></clipPath>
<path d="M0,2185.5 L1500,2170.8 L1500,2339 L0,2339 Z" fill="#70cbf5"/>
<g fill="#fff">
<circle cx="-20.6" cy="2257.4" r="6.0"/>
<circle cx="-12.4" cy="2286.4" r="8.0"/>
<circle cx="-4.3" cy="2315.4" r="6.0"/>
<circle cx="3.9" cy="2344.4" r="4.0"/>
<circle cx="-7.6" cy="2190.3" r="3.9"/>
<circle cx="0.5" cy="2219.3" r="4.0"/>
<circle cx="8.7" cy="2248.3" r="7.0"/>
<circle cx="16.8" cy="2277.3" r="8.3"/>
<circle cx="25.0" cy="2306.3" r="6.4"/>
<circle cx="33.1" cy="2335.3" r="3.7"/>
<circle cx="41.3" cy="2364.3" r="3.5"/>
<circle cx="29.7" cy="2210.2" r="3.7"/>
<circle cx="37.9" cy="2239.2" r="7.0"/>
<circle cx="46.0" cy="2268.2" r="7.7"/>
<circle cx="54.1" cy="2297.2" r="5.6"/>
<circle cx="62.3" cy="2326.2" r="4.0"/>
<circle cx="70.5" cy="2355.2" r="2.5"/>
<circle cx="58.9" cy="2201.0" r="4.7"/>
<circle cx="67.0" cy="2230.0" r="7.0"/>
<circle cx="75.2" cy="2259.0" r="7.7"/>
<circle cx="83.4" cy="2288.0" r="5.3"/>
<circle cx="91.5" cy="2317.0" r="3.3"/>
<circle cx="99.7" cy="2346.0" r="2.5"/>
<circle cx="88.1" cy="2191.9" r="6.0"/>
<circle cx="96.2" cy="2220.9" r="7.0"/>
<circle cx="104.4" cy="2249.9" r="7.0"/>
<circle cx="112.6" cy="2278.9" r="5.5"/>
<circle cx="120.7" cy="2307.9" r="4.0"/>
<circle cx="128.9" cy="2336.9" r="2.7"/>
<circle cx="117.3" cy="2182.8" r="4.5"/>
<circle cx="125.4" cy="2211.8" r="7.0"/>
<circle cx="133.6" cy="2240.8" r="8.0"/>
<circle cx="141.8" cy="2269.8" r="8.0"/>
<circle cx="149.9" cy="2298.8" r="7.0"/>
<circle cx="158.1" cy="2327.8" r="4.7"/>
<circle cx="166.2" cy="2356.8" r="3.5"/>
<circle cx="154.7" cy="2202.6" r="7.3"/>
<circle cx="162.8" cy="2231.6" r="9.0"/>
<circle cx="171.0" cy="2260.6" r="10.0"/>
<circle cx="179.1" cy="2289.6" r="9.6"/>
<circle cx="187.2" cy="2318.6" r="5.3"/>
<circle cx="195.4" cy="2347.6" r="5.0"/>
<circle cx="183.8" cy="2193.5" r="9.3"/>
<circle cx="192.0" cy="2222.5" r="13.3"/>
<circle cx="200.2" cy="2251.5" r="13.6"/>
<circle cx="208.3" cy="2280.5" r="10.4"/>
<circle cx="216.4" cy="2309.5" r="7.7"/>
<circle cx="224.6" cy="2338.5" r="9.3"/>
<circle cx="213.0" cy="2184.4" r="10.0"/>
<circle cx="221.2" cy="2213.4" r="12.0"/>
<circle cx="229.3" cy="2242.4" r="12.8"/>
<circle cx="237.5" cy="2271.4" r="12.3"/>
<circle cx="245.6" cy="2300.4" r="11.7"/>
<circle cx="253.8" cy="2329.4" r="10.0"/>
<circle cx="261.9" cy="2358.4" r="8.0"/>
<circle cx="250.4" cy="2204.2" r="7.7"/>
<circle cx="258.6" cy="2233.2" r="9.0"/>
<circle cx="266.7" cy="2262.2" r="11.7"/>
<circle cx="274.9" cy="2291.2" r="12.7"/>
<circle cx="283.0" cy="2320.2" r="9.6"/>
<circle cx="291.1" cy="2349.2" r="8.0"/>
<circle cx="279.6" cy="2195.1" r="5.3"/>
<circle cx="287.8" cy="2224.1" r="6.7"/>
<circle cx="295.9" cy="2253.1" r="10.0"/>
<circle cx="304.1" cy="2282.1" r="10.0"/>
<circle cx="312.2" cy="2311.1" r="6.7"/>
<circle cx="320.4" cy="2340.1" r="6.7"/>
<circle cx="308.8" cy="2186.0" r="4.5"/>
<circle cx="316.9" cy="2215.0" r="6.4"/>
<circle cx="325.1" cy="2244.0" r="9.7"/>
<circle cx="333.2" cy="2273.0" r="9.6"/>
<circle cx="341.4" cy="2302.0" r="7.3"/>
<circle cx="349.6" cy="2331.0" r="8.7"/>
<circle cx="357.7" cy="2360.0" r="9.0"/>
<circle cx="338.0" cy="2176.8" r="6.0"/>
<circle cx="346.1" cy="2205.8" r="8.3"/>
<circle cx="354.3" cy="2234.8" r="11.3"/>
<circle cx="362.4" cy="2263.8" r="11.3"/>
<circle cx="370.6" cy="2292.8" r="10.7"/>
<circle cx="378.8" cy="2321.8" r="12.7"/>
<circle cx="386.9" cy="2350.8" r="13.0"/>
<circle cx="375.3" cy="2196.7" r="11.2"/>
<circle cx="383.5" cy="2225.7" r="12.7"/>
<circle cx="391.6" cy="2254.7" r="12.7"/>
<circle cx="399.8" cy="2283.7" r="12.7"/>
<circle cx="407.9" cy="2312.7" r="14.4"/>
<circle cx="416.1" cy="2341.7" r="15.3"/>
<circle cx="404.5" cy="2187.6" r="11.7"/>
<circle cx="412.7" cy="2216.6" r="13.0"/>
<circle cx="420.8" cy="2245.6" r="13.3"/>
<circle cx="429.0" cy="2274.6" r="13.0"/>
<circle cx="437.1" cy="2303.6" r="14.4"/>
<circle cx="445.3" cy="2332.6" r="15.3"/>
<circle cx="453.4" cy="2361.6" r="16.0"/>
<circle cx="433.8" cy="2178.5" r="12.0"/>
<circle cx="441.9" cy="2207.5" r="13.3"/>
<circle cx="450.1" cy="2236.5" r="14.0"/>
<circle cx="458.2" cy="2265.5" r="13.3"/>
<circle cx="466.4" cy="2294.5" r="14.0"/>
<circle cx="474.5" cy="2323.5" r="15.0"/>
<circle cx="482.7" cy="2352.5" r="16.0"/>
<circle cx="462.9" cy="2169.3" r="12.0"/>
<circle cx="471.1" cy="2198.3" r="14.0"/>
<circle cx="479.2" cy="2227.3" r="14.7"/>
<circle cx="487.4" cy="2256.3" r="15.0"/>
<circle cx="495.6" cy="2285.3" r="13.6"/>
<circle cx="503.7" cy="2314.3" r="15.0"/>
<circle cx="511.9" cy="2343.3" r="16.0"/>
<circle cx="500.3" cy="2189.2" r="12.7"/>
<circle cx="508.4" cy="2218.2" r="14.4"/>
<circle cx="516.6" cy="2247.2" r="14.4"/>
<circle cx="524.8" cy="2276.2" r="14.0"/>
<circle cx="532.9" cy="2305.2" r="15.2"/>
<circle cx="541.0" cy="2334.2" r="16.0"/>
<circle cx="549.2" cy="2363.2" r="15.9"/>
<circle cx="529.5" cy="2180.1" r="11.0"/>
<circle cx="537.7" cy="2209.1" r="11.7"/>
<circle cx="545.8" cy="2238.1" r="13.0"/>
<circle cx="554.0" cy="2267.1" r="13.3"/>
<circle cx="562.1" cy="2296.1" r="14.8"/>
<circle cx="570.2" cy="2325.1" r="16.0"/>
<circle cx="578.4" cy="2354.1" r="15.5"/>
<circle cx="566.9" cy="2199.9" r="8.7"/>
<circle cx="575.0" cy="2228.9" r="10.0"/>
<circle cx="583.1" cy="2257.9" r="11.0"/>
<circle cx="591.3" cy="2286.9" r="12.7"/>
<circle cx="599.4" cy="2315.9" r="15.0"/>
<circle cx="607.6" cy="2344.9" r="15.5"/>
<circle cx="596.0" cy="2190.8" r="8.3"/>
<circle cx="604.2" cy="2219.8" r="7.3"/>
<circle cx="612.3" cy="2248.8" r="7.3"/>
<circle cx="620.5" cy="2277.8" r="11.3"/>
<circle cx="628.6" cy="2306.8" r="15.3"/>
<circle cx="636.8" cy="2335.8" r="15.7"/>
<circle cx="644.9" cy="2364.8" r="15.5"/>
<circle cx="625.2" cy="2181.7" r="10.0"/>
<circle cx="633.4" cy="2210.7" r="8.0"/>
<circle cx="641.5" cy="2239.7" r="8.3"/>
<circle cx="649.7" cy="2268.7" r="12.7"/>
<circle cx="657.8" cy="2297.7" r="15.7"/>
<circle cx="666.0" cy="2326.7" r="15.7"/>
<circle cx="674.1" cy="2355.7" r="15.0"/>
<circle cx="654.5" cy="2172.6" r="13.0"/>
<circle cx="662.6" cy="2201.6" r="12.7"/>
<circle cx="670.8" cy="2230.6" r="14.0"/>
<circle cx="678.9" cy="2259.6" r="15.3"/>
<circle cx="687.0" cy="2288.6" r="16.0"/>
<circle cx="695.2" cy="2317.6" r="15.3"/>
<circle cx="703.4" cy="2346.6" r="14.5"/>
<circle cx="683.7" cy="2163.4" r="15.5"/>
<circle cx="691.8" cy="2192.4" r="16.0"/>
<circle cx="700.0" cy="2221.4" r="16.4"/>
<circle cx="708.1" cy="2250.4" r="16.4"/>
<circle cx="716.2" cy="2279.4" r="16.2"/>
<circle cx="724.4" cy="2308.4" r="15.0"/>
<circle cx="732.6" cy="2337.4" r="13.3"/>
<circle cx="721.0" cy="2183.3" r="16.5"/>
<circle cx="729.1" cy="2212.3" r="16.6"/>
<circle cx="737.3" cy="2241.3" r="16.6"/>
<circle cx="745.4" cy="2270.3" r="15.3"/>
<circle cx="753.6" cy="2299.3" r="14.0"/>
<circle cx="761.8" cy="2328.3" r="12.4"/>
<circle cx="769.9" cy="2357.3" r="12.5"/>
<circle cx="750.2" cy="2174.2" r="16.5"/>
<circle cx="758.4" cy="2203.2" r="16.6"/>
<circle cx="766.5" cy="2232.2" r="16.4"/>
<circle cx="774.6" cy="2261.2" r="14.6"/>
<circle cx="782.8" cy="2290.2" r="14.0"/>
<circle cx="791.0" cy="2319.2" r="12.3"/>
<circle cx="799.1" cy="2348.2" r="12.0"/>
<circle cx="779.4" cy="2165.0" r="16.5"/>
<circle cx="787.5" cy="2194.0" r="16.0"/>
<circle cx="795.7" cy="2223.0" r="15.3"/>
<circle cx="803.8" cy="2252.0" r="14.0"/>
<circle cx="812.0" cy="2281.0" r="12.7"/>
<circle cx="820.1" cy="2310.0" r="11.7"/>
<circle cx="828.3" cy="2339.0" r="11.3"/>
<circle cx="816.8" cy="2184.9" r="15.5"/>
<circle cx="824.9" cy="2213.9" r="14.0"/>
<circle cx="833.0" cy="2242.9" r="11.7"/>
<circle cx="841.2" cy="2271.9" r="10.4"/>
<circle cx="849.4" cy="2300.9" r="11.3"/>
<circle cx="857.5" cy="2329.9" r="11.3"/>
<circle cx="865.6" cy="2358.9" r="12.0"/>
<circle cx="845.9" cy="2175.8" r="15.0"/>
<circle cx="854.1" cy="2204.8" r="13.3"/>
<circle cx="862.2" cy="2233.8" r="10.0"/>
<circle cx="870.4" cy="2262.8" r="8.7"/>
<circle cx="878.5" cy="2291.8" r="11.0"/>
<circle cx="886.7" cy="2320.8" r="13.3"/>
<circle cx="894.8" cy="2349.8" r="13.5"/>
<circle cx="875.1" cy="2166.6" r="14.0"/>
<circle cx="883.3" cy="2195.6" r="13.6"/>
<circle cx="891.4" cy="2224.6" r="11.7"/>
<circle cx="899.6" cy="2253.6" r="11.3"/>
<circle cx="907.8" cy="2282.6" r="13.3"/>
<circle cx="915.9" cy="2311.6" r="14.7"/>
<circle cx="924.0" cy="2340.6" r="14.0"/>
<circle cx="912.5" cy="2186.5" r="14.7"/>
<circle cx="920.6" cy="2215.5" r="15.2"/>
<circle cx="928.8" cy="2244.5" r="14.6"/>
<circle cx="937.0" cy="2273.5" r="15.0"/>
<circle cx="945.1" cy="2302.5" r="15.2"/>
<circle cx="953.2" cy="2331.5" r="14.0"/>
<circle cx="961.4" cy="2360.5" r="14.2"/>
<circle cx="941.7" cy="2177.4" r="14.5"/>
<circle cx="949.8" cy="2206.4" r="16.0"/>
<circle cx="958.0" cy="2235.4" r="16.0"/>
<circle cx="966.1" cy="2264.4" r="16.0"/>
<circle cx="974.3" cy="2293.4" r="15.6"/>
<circle cx="982.4" cy="2322.4" r="15.0"/>
<circle cx="990.6" cy="2351.4" r="14.0"/>
<circle cx="970.9" cy="2168.2" r="15.0"/>
<circle cx="979.0" cy="2197.2" r="16.0"/>
<circle cx="987.2" cy="2226.2" r="16.0"/>
<circle cx="995.4" cy="2255.2" r="16.0"/>
<circle cx="1003.5" cy="2284.2" r="15.6"/>
<circle cx="1011.6" cy="2313.2" r="15.2"/>
<circle cx="1019.8" cy="2342.2" r="13.3"/>
<circle cx="1008.2" cy="2188.1" r="15.3"/>
<circle cx="1016.4" cy="2217.1" r="15.4"/>
<circle cx="1024.5" cy="2246.1" r="15.4"/>
<circle cx="1032.7" cy="2275.1" r="15.3"/>
<circle cx="1040.8" cy="2304.1" r="15.0"/>
<circle cx="1049.0" cy="2333.1" r="12.3"/>
<circle cx="1057.1" cy="2362.1" r="11.2"/>
<circle cx="1037.5" cy="2179.0" r="13.3"/>
<circle cx="1045.6" cy="2208.0" r="13.3"/>
<circle cx="1053.8" cy="2237.0" r="13.3"/>
<circle cx="1061.9" cy="2266.0" r="13.3"/>
<circle cx="1070.0" cy="2295.0" r="13.3"/>
<circle cx="1078.2" cy="2324.0" r="10.4"/>
<circle cx="1086.3" cy="2353.0" r="9.0"/>
<circle cx="1066.7" cy="2169.9" r="10.0"/>
<circle cx="1074.8" cy="2198.9" r="10.4"/>
<circle cx="1083.0" cy="2227.9" r="10.0"/>
<circle cx="1091.1" cy="2256.9" r="10.4"/>
<circle cx="1099.2" cy="2285.9" r="9.8"/>
<circle cx="1107.4" cy="2314.9" r="8.6"/>
<circle cx="1115.5" cy="2343.9" r="7.0"/>
<circle cx="1104.0" cy="2189.7" r="7.2"/>
<circle cx="1112.1" cy="2218.7" r="6.8"/>
<circle cx="1120.3" cy="2247.7" r="6.6"/>
<circle cx="1128.5" cy="2276.7" r="7.7"/>
<circle cx="1136.6" cy="2305.7" r="6.7"/>
<circle cx="1144.8" cy="2334.7" r="3.3"/>
<circle cx="1152.9" cy="2363.7" r="4.2"/>
<circle cx="1133.2" cy="2180.6" r="6.5"/>
<circle cx="1141.3" cy="2209.6" r="4.7"/>
<circle cx="1149.5" cy="2238.6" r="4.2"/>
<circle cx="1157.7" cy="2267.6" r="4.2"/>
<circle cx="1165.8" cy="2296.6" r="4.4"/>
<circle cx="1174.0" cy="2325.6" r="3.3"/>
<circle cx="1182.1" cy="2354.6" r="3.0"/>
<circle cx="1162.4" cy="2171.5" r="6.0"/>
<circle cx="1170.5" cy="2200.5" r="4.7"/>
<circle cx="1178.7" cy="2229.5" r="5.6"/>
<circle cx="1186.8" cy="2258.5" r="5.6"/>
<circle cx="1195.0" cy="2287.5" r="5.3"/>
<circle cx="1203.1" cy="2316.5" r="4.7"/>
<circle cx="1211.3" cy="2345.5" r="4.0"/>
<circle cx="1199.8" cy="2191.3" r="7.7"/>
<circle cx="1207.9" cy="2220.3" r="7.7"/>
<circle cx="1216.1" cy="2249.3" r="7.7"/>
<circle cx="1224.2" cy="2278.3" r="7.0"/>
<circle cx="1232.4" cy="2307.3" r="6.4"/>
<circle cx="1240.5" cy="2336.3" r="5.6"/>
<circle cx="1228.9" cy="2182.2" r="10.4"/>
<circle cx="1237.1" cy="2211.2" r="9.3"/>
<circle cx="1245.2" cy="2240.2" r="8.4"/>
<circle cx="1253.4" cy="2269.2" r="6.4"/>
<circle cx="1261.5" cy="2298.2" r="6.0"/>
<circle cx="1269.7" cy="2327.2" r="5.6"/>
<circle cx="1277.8" cy="2356.2" r="5.0"/>
<circle cx="1258.1" cy="2173.1" r="10.0"/>
<circle cx="1266.3" cy="2202.1" r="9.0"/>
<circle cx="1274.5" cy="2231.1" r="8.3"/>
<circle cx="1282.6" cy="2260.1" r="5.0"/>
<circle cx="1290.8" cy="2289.1" r="2.7"/>
<circle cx="1298.9" cy="2318.1" r="4.3"/>
<circle cx="1307.0" cy="2347.1" r="4.0"/>
<circle cx="1295.5" cy="2192.9" r="6.4"/>
<circle cx="1303.7" cy="2221.9" r="6.4"/>
<circle cx="1311.8" cy="2250.9" r="3.7"/>
<circle cx="1320.0" cy="2279.9" r="2.4"/>
<circle cx="1328.1" cy="2308.9" r="2.0"/>
<circle cx="1324.7" cy="2183.8" r="2.7"/>
<circle cx="1332.9" cy="2212.8" r="3.3"/>
<path d="M691.8,2192.4 L721.0,2183.3 L729.1,2212.3 L700.0,2221.4Z"/>
<path d="M721.0,2183.3 L750.2,2174.2 L758.4,2203.2 L729.1,2212.3Z"/>
<path d="M750.2,2174.2 L779.4,2165.0 L787.5,2194.0 L758.4,2203.2Z"/>
<path d="M700.0,2221.4 L729.1,2212.3 L737.3,2241.3 L708.1,2250.4Z"/>
<path d="M729.1,2212.3 L758.4,2203.2 L766.5,2232.2 L737.3,2241.3Z"/>
<path d="M758.4,2203.2 L787.5,2194.0 L795.7,2223.0 L766.5,2232.2Z"/>
<path d="M708.1,2250.4 L737.3,2241.3 L745.4,2270.3 L716.2,2279.4Z"/>
<path d="M737.3,2241.3 L766.5,2232.2 L774.6,2261.2 L745.4,2270.3Z"/>
<path d="M779.4,2165.0 L808.6,2155.9 L816.8,2184.9 L787.5,2194.0Z"/>
<path d="M678.9,2259.6 L708.1,2250.4 L716.2,2279.4 L687.0,2288.6Z"/>
<path d="M687.0,2288.6 L716.2,2279.4 L724.4,2308.4 L695.2,2317.6Z"/>
<path d="M657.8,2297.7 L687.0,2288.6 L695.2,2317.6 L666.0,2326.7Z"/>
<path d="M628.6,2306.8 L657.8,2297.7 L666.0,2326.7 L636.8,2335.8Z"/>
<path d="M599.4,2315.9 L628.6,2306.8 L636.8,2335.8 L607.6,2344.9Z"/>
<path d="M570.2,2325.1 L599.4,2315.9 L607.6,2344.9 L578.4,2354.1Z"/>
<path d="M474.5,2323.5 L503.7,2314.3 L511.9,2343.3 L482.7,2352.5Z"/>
<path d="M503.7,2314.3 L532.9,2305.2 L541.0,2334.2 L511.9,2343.3Z"/>
<path d="M532.9,2305.2 L562.1,2296.1 L570.2,2325.1 L541.0,2334.2Z"/>
<path d="M979.0,2197.2 L1008.2,2188.1 L1016.4,2217.1 L987.2,2226.2Z"/>
<path d="M949.8,2206.4 L979.0,2197.2 L987.2,2226.2 L958.0,2235.4Z"/>
<path d="M987.2,2226.2 L1016.4,2217.1 L1024.5,2246.1 L995.4,2255.2Z"/>
<path d="M958.0,2235.4 L987.2,2226.2 L995.4,2255.2 L966.1,2264.4Z"/>
<path d="M966.1,2264.4 L995.4,2255.2 L1003.5,2284.2 L974.3,2293.4Z"/>
<path d="M995.4,2255.2 L1024.5,2246.1 L1032.7,2275.1 L1003.5,2284.2Z"/>
</g>
<g fill="#70cbf5" clip-path="url(#bandclip)">
<path d="M704.5,2204.2 L708.8,2196.3 L716.5,2200.5 L712.2,2208.4Z"/>
<path d="M733.7,2195.1 L738.0,2187.2 L745.7,2191.3 L741.4,2199.3Z"/>
<path d="M762.9,2186.0 L767.2,2178.0 L774.9,2182.2 L770.6,2190.2Z"/>
<path d="M712.6,2233.2 L716.9,2225.3 L724.6,2229.5 L720.3,2237.4Z"/>
<path d="M741.8,2224.1 L746.1,2216.2 L753.8,2220.3 L749.5,2228.3Z"/>
<path d="M771.0,2215.0 L775.3,2207.0 L783.0,2211.2 L778.7,2219.2Z"/>
<path d="M720.6,2262.3 L725.0,2254.1 L733.0,2258.4 L728.5,2266.6Z"/>
<path d="M749.1,2253.4 L754.0,2244.3 L762.8,2249.1 L757.9,2258.2Z"/>
<path d="M791.9,2176.9 L796.3,2168.7 L804.3,2173.0 L799.8,2181.2Z"/>
<path d="M690.9,2271.6 L695.7,2262.7 L704.3,2267.4 L699.5,2276.2Z"/>
<path d="M699.0,2300.6 L703.8,2291.7 L712.4,2296.4 L707.6,2305.2Z"/>
<path d="M669.8,2309.7 L674.6,2300.9 L683.2,2305.5 L678.4,2314.4Z"/>
<path d="M641.1,2318.7 L645.6,2310.5 L653.5,2314.8 L649.1,2323.0Z"/>
<path d="M611.9,2327.8 L616.4,2319.6 L624.3,2323.9 L619.9,2332.1Z"/>
<path d="M582.9,2336.9 L587.2,2328.9 L594.9,2333.1 L590.6,2341.1Z"/>
<path d="M487.4,2335.2 L491.6,2327.6 L498.9,2331.6 L494.8,2339.2Z"/>
<path d="M516.5,2326.1 L520.7,2318.3 L528.3,2322.4 L524.1,2330.2Z"/>
<path d="M545.5,2317.0 L549.8,2309.0 L557.7,2313.2 L553.3,2321.3Z"/>
<path d="M991.0,2209.3 L995.8,2200.4 L1004.4,2205.1 L999.6,2213.9Z"/>
<path d="M961.8,2218.4 L966.6,2209.6 L975.2,2214.2 L970.4,2223.1Z"/>
<path d="M999.2,2238.3 L1004.0,2229.4 L1012.6,2234.1 L1007.8,2242.9Z"/>
<path d="M970.0,2247.4 L974.8,2238.6 L983.4,2243.2 L978.6,2252.1Z"/>
<path d="M978.1,2276.4 L982.9,2267.6 L991.5,2272.2 L986.7,2281.1Z"/>
<path d="M1007.0,2267.4 L1012.0,2258.1 L1021.1,2263.0 L1016.0,2272.3Z"/>
</g>
<circle cx="138.7" cy="2250.8" r="42.2" fill="none" stroke="#17a2e4" stroke-width="2.8"/>
<circle cx="142.7" cy="2247.3" r="37.8" fill="#fff"/>
<circle cx="142.7" cy="2247.3" r="36.3" fill="#0aa3e9"/>
</svg>
<p class="t" style="left:122.45px;top:2231.71px;font-size:34.5px;letter-spacing:3.450px;font-family:'Liberation Serif',serif;color:#fff;-webkit-text-stroke:0.9px #fff;">26</p>
</footer>
</body>
</html>
